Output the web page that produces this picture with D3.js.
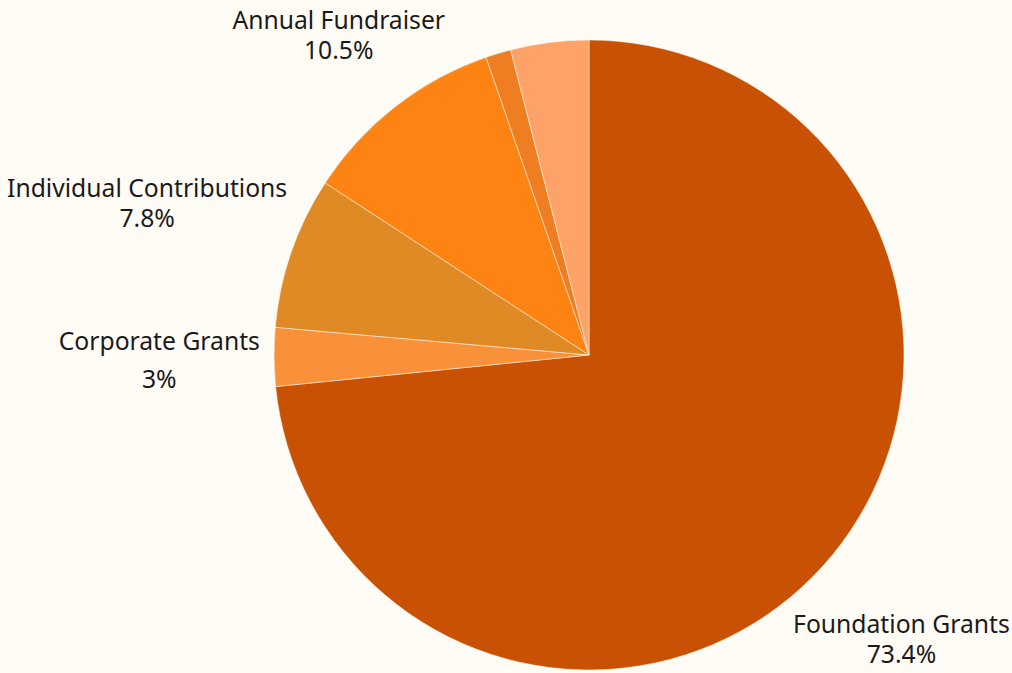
<!DOCTYPE html>
<html>
<head>
<meta charset="utf-8">
<script src="https://cdn.jsdelivr.net/npm/d3@7"></script>
<style>
  html, body { margin: 0; padding: 0; background: #fffcf5; }
  svg { display: block; }
</style>
</head>
<body>
<svg id="chart" width="1012" height="673"></svg>
<script>
const categories = ["Foundation Grants", "Corporate Grants", "Individual Contributions", "Annual Fundraiser", "Other A", "Other B"];
const values = [73.4, 3.0, 7.8, 10.5, 1.3, 4.0];
const showLabel = [true, true, true, true, false, false];
const colors = ["#c85104", "#f8913a", "#e08a25", "#fd8412", "#ef7e22", "#fda367"];

const width = 1012, height = 673;
const cx = 589, cy = 355, R = 315, pad = 12;
const lineGap = 30, halfH = 27;

const svg = d3.select("#chart");
svg.append("rect").attr("width", width).attr("height", height).attr("fill", "#fffcf5");

const data = categories.map((c, i) => ({ name: c, value: values[i], color: colors[i], show: showLabel[i] }));
const pie = d3.pie().sort(null).value(d => d.value);
const arcs = pie(data);
const arc = d3.arc().innerRadius(0).outerRadius(R);

const g = svg.append("g").attr("transform", `translate(${cx},${cy})`);
g.selectAll("path").data(arcs).join("path")
  .attr("d", arc)
  .attr("fill", d => d.data.color)
  .attr("stroke", "#fffcf5")
  .attr("stroke-width", 0.5);

const fmt = v => (Math.round(v * 10) / 10) + "%";
const total = d3.sum(values);

arcs.filter(a => a.data.show).forEach(a => {
  const mid = (a.startAngle + a.endAngle) / 2;
  const ux = Math.sin(mid), uy = -Math.cos(mid);
  const t = g.append("text")
    .attr("font-family", "'Noto Sans', 'Open Sans', sans-serif")
    .attr("font-size", 24.7)
    .attr("fill", "#1a1a1a")
    .attr("text-anchor", "middle");
  const l1 = t.append("tspan").attr("x", 0).text(a.data.name);
  const l2 = t.append("tspan").attr("x", 0).text(fmt(a.data.value / total * 100));
  const hw = Math.max(l1.node().getComputedTextLength(), l2.node().getComputedTextLength()) / 2;
  const sx = Math.sign(ux) || 1, sy = Math.sign(uy) || 1;
  const ox = sx * hw, oy = sy * halfH;
  const target = R + pad;
  const b = -2 * (ux * ox + uy * oy);
  const c = ox * ox + oy * oy - target * target;
  const s = (-b + Math.sqrt(b * b - 4 * c)) / 2;
  const tx = s * ux, ty = s * uy;
  // near-horizontal labels get a looser second line
  const horiz = Math.abs(uy) < 0.1;
  const gap = horiz ? lineGap + 6 : lineGap;
  const dx = horiz ? -3 : 0;
  l1.attr("x", tx + dx).attr("y", ty - gap / 2 + 10);
  l2.attr("x", tx + dx).attr("y", ty + gap / 2 + 10 + (horiz ? 2 : 0));
});
</script>
</body>
</html>
